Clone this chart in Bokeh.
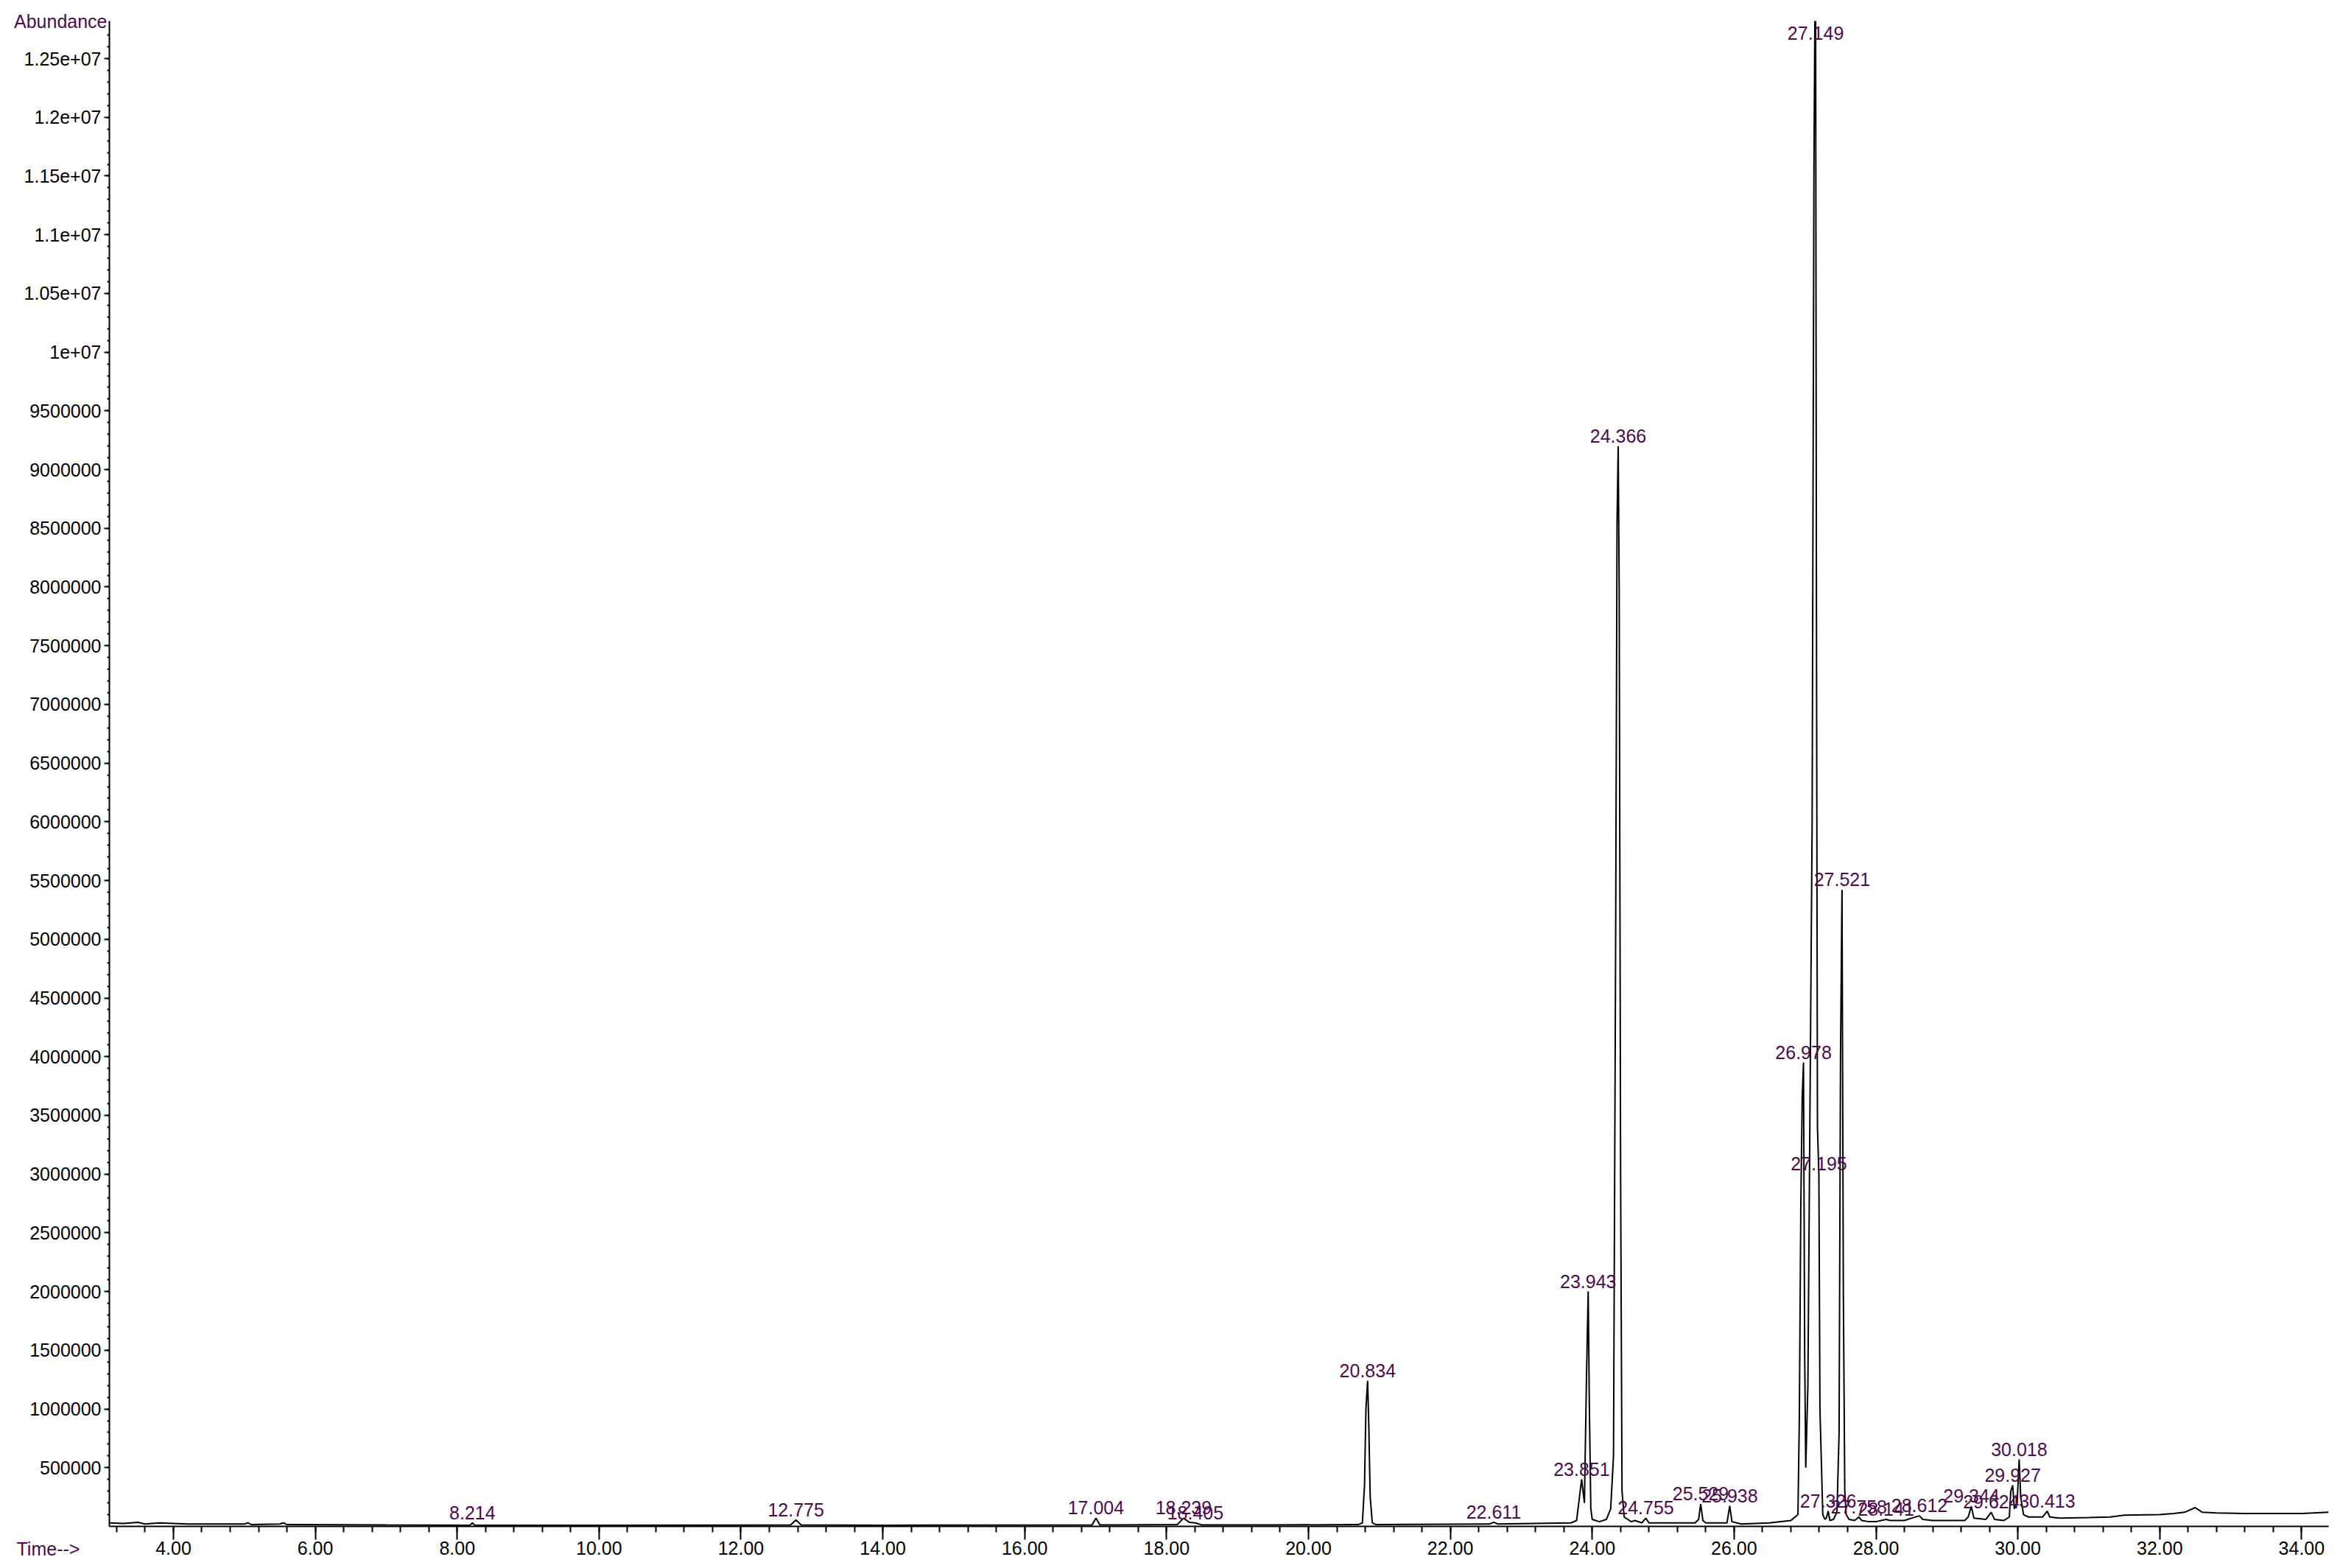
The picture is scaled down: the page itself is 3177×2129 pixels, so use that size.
from bokeh.plotting import figure
from bokeh.models import ColumnDataSource, Range1d, FixedTicker, Label
from bokeh.core.properties import value
from bokeh.embed import file_html
from bokeh.resources import INLINE

# ---- data (time in min, abundance in millions) ----
trace_time = [3.10, 3.30, 3.50, 3.60, 3.80, 4.00, 4.20, 5.00, 5.05, 5.10, 5.50, 5.55, 5.60, 7.00,
              8.18, 8.214, 8.25, 10.0, 12.70, 12.775, 12.85, 14.0, 16.95, 17.004, 17.06,
              18.15, 18.239, 18.32, 18.405, 18.50, 19.50, 20.70, 20.76, 20.79, 20.81, 20.834,
              20.85, 20.87, 20.90, 20.95, 22.55, 22.611, 22.67, 23.70, 23.78, 23.83, 23.851,
              23.89, 23.92, 23.943, 23.96, 23.98, 24.00, 24.10, 24.20, 24.26, 24.30, 24.33,
              24.35, 24.366, 24.38, 24.40, 24.42, 24.45, 24.55, 24.60, 24.70, 24.755, 24.80,
              25.00, 25.45, 25.50, 25.529, 25.56, 25.60, 25.90, 25.938, 25.97, 26.10, 26.50,
              26.80, 26.90, 26.92, 26.94, 26.96, 26.978, 26.995, 27.01, 27.04, 27.10, 27.125,
              27.14, 27.149, 27.16, 27.175, 27.195, 27.21, 27.23, 27.25, 27.28, 27.30, 27.326,
              27.35, 27.40, 27.45, 27.48, 27.50, 27.521, 27.54, 27.56, 27.58, 27.62, 27.70,
              27.758, 27.80, 27.90, 28.00, 28.141, 28.20, 28.40, 28.50, 28.612, 28.66, 28.80,
              29.00, 29.25, 29.30, 29.344, 29.38, 29.55, 29.624, 29.67, 29.80, 29.88, 29.90,
              29.927, 29.95, 29.99, 30.018, 30.04, 30.08, 30.15, 30.35, 30.413, 30.45, 30.60,
              31.00, 31.30, 31.50, 32.00, 32.20, 32.35, 32.50, 32.60, 32.80, 33.20, 33.60,
              34.00, 34.38]
trace_abund = [0.03, 0.025, 0.035, 0.02, 0.03, 0.025, 0.02, 0.02, 0.03, 0.015, 0.02, 0.03, 0.015, 0.012,
               0.01, 0.03, 0.01, 0.01, 0.012, 0.055, 0.012, 0.01, 0.012, 0.07, 0.012,
               0.015, 0.07, 0.035, 0.03, 0.012, 0.012, 0.015, 0.03, 0.35, 1.0, 1.24,
               0.87, 0.25, 0.03, 0.015, 0.02, 0.035, 0.02, 0.03, 0.05, 0.30, 0.40,
               0.20, 1.30, 2.00, 1.00, 0.15, 0.06, 0.04, 0.06, 0.15, 0.60, 5.00,
               8.55, 9.20, 8.00, 3.00, 0.30, 0.08, 0.04, 0.05, 0.03, 0.07, 0.03,
               0.03, 0.03, 0.06, 0.19, 0.05, 0.03, 0.03, 0.175, 0.04, 0.02, 0.03,
               0.05, 0.10, 0.95, 2.70, 3.65, 3.95, 1.45, 0.50, 1.20, 6.00, 11.50,
               13.00, 13.00, 8.00, 3.40, 3.00, 1.00, 0.55, 0.10, 0.06, 0.07, 0.13,
               0.05, 0.06, 0.12, 0.80, 4.00, 5.42, 2.00, 0.30, 0.10, 0.06, 0.05,
               0.08, 0.05, 0.04, 0.04, 0.06, 0.05, 0.05, 0.07, 0.09, 0.06, 0.05,
               0.05, 0.05, 0.08, 0.17, 0.07, 0.06, 0.12, 0.06, 0.05, 0.08, 0.30,
               0.35, 0.15, 0.20, 0.57, 0.25, 0.10, 0.08, 0.08, 0.13, 0.08, 0.07,
               0.075, 0.08, 0.095, 0.10, 0.11, 0.12, 0.16, 0.12, 0.115, 0.11, 0.11,
               0.11, 0.12]

peak_labels = ["8.214", "12.775", "17.004", "18.239", "18.405", "20.834", "22.611", "23.851",
               "23.943", "24.366", "24.755", "25.529", "25.938", "26.978", "27.149", "27.195",
               "27.326", "27.521", "27.758", "28.141", "28.612", "29.344", "29.624", "29.927",
               "30.018", "30.413"]
peak_apex = [0.03, 0.055, 0.07, 0.07, 0.03, 1.24, 0.035, 0.40,
             2.00, 9.20, 0.07, 0.19, 0.175, 3.95, 13.00, 3.00,
             0.13, 5.42, 0.08, 0.06, 0.09, 0.17, 0.12, 0.35,
             0.57, 0.13]

x_tick_values = [4, 6, 8, 10, 12, 14, 16, 18, 20, 22, 24, 26, 28, 30, 32, 34]
x_tick_labels = ["4.00", "6.00", "8.00", "10.00", "12.00", "14.00", "16.00", "18.00", "20.00",
                 "22.00", "24.00", "26.00", "28.00", "30.00", "32.00", "34.00"]
y_tick_values = [500000, 1000000, 1500000, 2000000, 2500000, 3000000, 3500000, 4000000,
                 4500000, 5000000, 5500000, 6000000, 6500000, 7000000, 7500000, 8000000,
                 8500000, 9000000, 9500000, 10000000, 10500000, 11000000, 11500000,
                 12000000, 12500000]
y_tick_labels = ["500000", "1000000", "1500000", "2000000", "2500000", "3000000", "3500000",
                 "4000000", "4500000", "5000000", "5500000", "6000000", "6500000", "7000000",
                 "7500000", "8000000", "8500000", "9000000", "9500000", "1e+07", "1.05e+07",
                 "1.1e+07", "1.15e+07", "1.2e+07", "1.25e+07"]
y_title = "Abundance"
x_title = "Time-->"

# ---- styling ----
X_START, X_END = 3.097, 34.38
Y_START, Y_END = 0.0, 12.82e6
FONT = "Liberation Sans"
FSIZE = "25px"
PURPLE = "#4f0a4f"

p = figure(width=3168, height=2127, output_backend="svg", toolbar_location=None,
           x_range=Range1d(X_START, X_END), y_range=Range1d(Y_START, Y_END),
           min_border_left=148, min_border_right=7, min_border_top=28, min_border_bottom=55,
           background_fill_color="white", border_fill_color="white")
p.outline_line_color = None
p.xgrid.visible = False
p.ygrid.visible = False

x_minor = [round(3.2 + 0.4 * i, 2) for i in range(79) if 3.2 + 0.4 * i < X_END]
y_minor = [100000 * i for i in range(1, 128)]

xa = p.xaxis[0]
xa.ticker = FixedTicker(ticks=x_tick_values, minor_ticks=x_minor)
xa.major_label_overrides = dict(zip(x_tick_values, x_tick_labels))
xa.axis_line_width = 2
xa.axis_line_color = "black"
xa.major_tick_line_width = 2
xa.minor_tick_line_width = 2
xa.major_tick_out = 18
xa.major_tick_in = 0
xa.minor_tick_out = 8
xa.minor_tick_in = 0
xa.major_label_standoff = 2
xa.major_label_text_font = FONT
xa.major_label_text_font_size = FSIZE
xa.major_label_text_color = "black"

ya = p.yaxis[0]
ya.ticker = FixedTicker(ticks=y_tick_values, minor_ticks=y_minor)
ya.major_label_overrides = dict(zip(y_tick_values, y_tick_labels))
ya.axis_line_width = 2
ya.axis_line_color = "black"
ya.major_tick_line_width = 2
ya.minor_tick_line_width = 2
ya.major_tick_out = 7
ya.major_tick_in = 0
ya.minor_tick_out = 3
ya.minor_tick_in = 0
ya.major_label_standoff = 4
ya.major_label_text_font = FONT
ya.major_label_text_font_size = FSIZE
ya.major_label_text_color = "black"
# y title drawn horizontally at the top end of the axis, pulled in over the tick-label column
ya.axis_label = y_title
ya.axis_label_orientation = "horizontal"
ya.axis_label_align = "end"
ya.axis_label_standoff = -116
ya.axis_label_text_font = FONT
ya.axis_label_text_font_size = FSIZE
ya.axis_label_text_font_style = "normal"
ya.axis_label_text_color = PURPLE
ya.axis_label_text_baseline = "top"

# trace
tsrc = ColumnDataSource(dict(t=trace_time, a=[v * 1e6 for v in trace_abund]))
p.line("t", "a", source=tsrc, line_color="black", line_width=2)

# peak labels (label of an off-scale peak is kept inside the frame)
label_cap = Y_END - 0.19e6
lsrc = ColumnDataSource(dict(x=[float(s) for s in peak_labels],
                             y=[min(v * 1e6, label_cap) for v in peak_apex],
                             text=peak_labels))
p.text("x", "y", text="text", source=lsrc, text_font=value(FONT), text_font_size=FSIZE,
       text_color=PURPLE, text_align="center", text_baseline="bottom", y_offset=-5)

# x caption: a label living in the (thin) top panel so it is not clipped to the frame
p.add_layout(Label(x=X_START, y=Y_START, x_offset=-126, y_offset=-30, text=x_title,
                   text_font=FONT, text_font_size=FSIZE, text_color=PURPLE,
                   text_align="left", text_baseline="middle"), "above")

open("out.html", "w").write(file_html(p, INLINE))
